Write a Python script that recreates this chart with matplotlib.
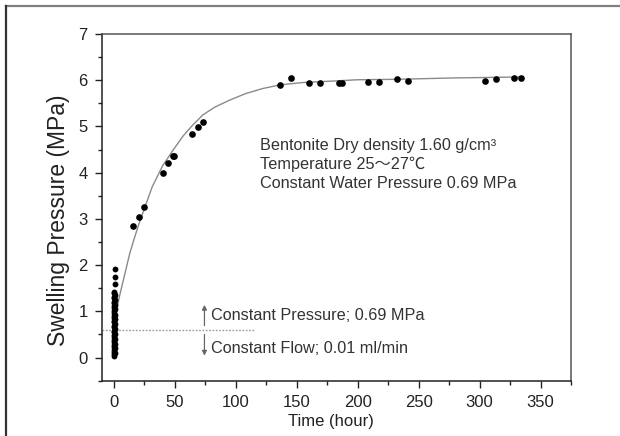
import matplotlib
matplotlib.use('Agg')
import matplotlib.pyplot as plt
from matplotlib.lines import Line2D

plt.rcParams['font.family'] = ['Liberation Sans', 'Noto Sans CJK SC', 'DejaVu Sans']

# early readings, stacked at t ~ 0
cluster_time = [0.5, 0.4, 0.6, 0.5, 0.3, 0.7, 0.5, 0.4, 0.6, 0.5, 0.3, 0.7, 0.5, 0.4,
                0.6, 0.5, 0.3, 0.7, 0.5, 0.4, 0.6, 0.5, 0.3, 0.7, 0.5, 0.4, 0.6, 0.5,
                0.3, 0.7, 0.5, 0.4, 0.6, 0.5, 0.3, 0.7, 0.5, 0.4, 0.6, 0.5, 0.4, 0.6,
                0.6, 0.7]
cluster_pressure = [0.04, 0.07, 0.10, 0.13, 0.16, 0.20, 0.23, 0.27, 0.30, 0.34, 0.37,
                    0.41, 0.44, 0.48, 0.51, 0.55, 0.58, 0.62, 0.65, 0.69, 0.72, 0.76,
                    0.79, 0.83, 0.86, 0.90, 0.93, 0.97, 1.00, 1.04, 1.07, 1.11, 1.14,
                    1.18, 1.21, 1.25, 1.28, 1.32, 1.35, 1.39, 1.42, 1.60, 1.75, 1.92]

# later readings
time_h = [15.8, 20.7, 25.1, 39.9, 44.8, 48.7, 49.0, 63.9, 68.8, 72.9, 136.4, 145.1,
          160.2, 169.2, 184.5, 187.0, 208.3, 217.1, 232.1, 241.1, 304.6, 313.3,
          328.4, 334.1]
pressure = [2.84, 3.04, 3.25, 4.00, 4.21, 4.35, 4.37, 4.83, 4.99, 5.09, 5.90, 6.04,
            5.93, 5.93, 5.93, 5.93, 5.97, 5.96, 6.02, 5.99, 5.99, 6.02, 6.05, 6.05]

# fitted curve
curve_time = [2.7, 5, 8, 11, 13, 16.3, 20.4, 25, 31.4, 40, 48.9, 57, 64, 73, 83, 95,
              108, 122, 136.4, 155, 178, 200, 232, 280, 334]
curve_pressure = [1.10, 1.37, 1.70, 2.03, 2.25, 2.54, 2.88, 3.22, 3.69, 4.15, 4.50,
                  4.80, 5.01, 5.25, 5.42, 5.57, 5.71, 5.82, 5.90, 5.95, 5.98, 6.01,
                  6.02, 6.05, 6.07]

boundary_p = 0.6

fig = plt.figure(figsize=(6.2, 4.36), dpi=100)
ax = fig.add_axes([0.164, 0.127, 0.757, 0.795])

ax.plot(curve_time, curve_pressure, color='#8a8a8a', lw=1.0, zorder=2)
ax.plot(cluster_time, cluster_pressure, 'o', color='black', ms=4.2, mew=0, zorder=3)
ax.plot(time_h, pressure, 'o', color='black', ms=4.8, mew=0, zorder=3)

ax.plot([-10, 114.7], [boundary_p, boundary_p], color='#999999', lw=1.0,
        linestyle=(0, (1.2, 1.2)), zorder=1)

ax.annotate('', xy=(74.3, 1.20), xytext=(74.3, 0.63),
            arrowprops=dict(arrowstyle='-|>', color='#666666', lw=0.9, mutation_scale=7))
ax.annotate('', xy=(74.3, -0.02), xytext=(74.3, 0.56),
            arrowprops=dict(arrowstyle='-|>', color='#666666', lw=0.9, mutation_scale=7))

txt_col = '#333333'
fs = 11.7
ax.text(79.8, 0.92, 'Constant Pressure; 0.69 MPa', fontsize=fs, color=txt_col, va='center')
ax.text(79.8, 0.19, 'Constant Flow; 0.01 ml/min', fontsize=fs, color=txt_col, va='center')

ax.text(119.7, 4.58, 'Bentonite Dry density 1.60 g/cm\u00b3', fontsize=fs, color=txt_col, va='center')
ax.text(119.7, 4.18, 'Temperature 25\uff5e27\u2103', fontsize=fs, color=txt_col, va='center')
ax.text(119.7, 3.77, 'Constant Water Pressure 0.69 MPa', fontsize=fs, color=txt_col, va='center')

ax.set_xlim(-10, 375)
ax.set_ylim(-0.5, 7)
ax.set_xticks([0, 50, 100, 150, 200, 250, 300, 350])
ax.set_xticks([25, 75, 125, 175, 225, 275, 325, 375], minor=True)
ax.set_yticks([0, 1, 2, 3, 4, 5, 6, 7])
ax.set_yticks([-0.5, 0.5, 1.5, 2.5, 3.5, 4.5, 5.5, 6.5], minor=True)
ax.tick_params(which='major', direction='out', length=5, width=1, colors='#222222',
               labelsize=12, pad=5)
ax.tick_params(which='minor', direction='out', length=3, width=1, colors='#222222')
ax.tick_params(axis='y', which='major', pad=5)

for side in ['left', 'bottom']:
    ax.spines[side].set_color('#222222')
    ax.spines[side].set_linewidth(1.1)
for side in ['top', 'right']:
    ax.spines[side].set_color('#555555')
    ax.spines[side].set_linewidth(1.1)

ax.set_xlabel('Time (hour)', fontsize=12, color='#222222')
ax.set_ylabel('Swelling Pressure (MPa)', fontsize=16.5, color='#222222')
ax.xaxis.set_label_coords(0.4886, -0.095)
ax.yaxis.set_label_coords(-0.067, 0.4635)

# frame of the cropped screenshot
fig.add_artist(Line2D([0.009, 1.0], [0.986, 0.986], transform=fig.transFigure,
                      color='#808080', lw=1.6))
fig.add_artist(Line2D([0.009, 0.009], [0.0, 0.986], transform=fig.transFigure,
                      color='#333333', lw=1.6))

fig.savefig('out.png', dpi=100)
